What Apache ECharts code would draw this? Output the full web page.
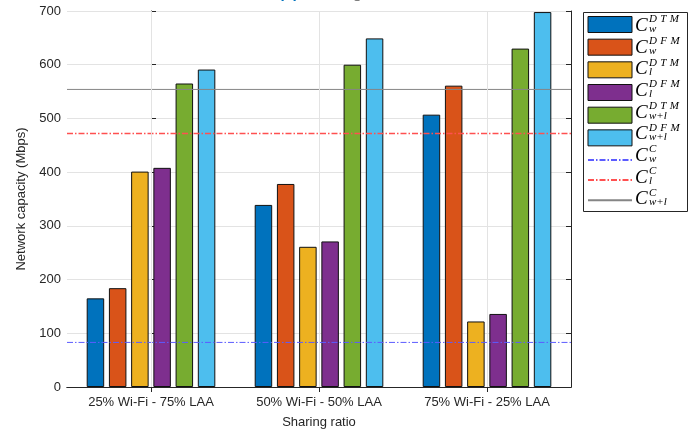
<!DOCTYPE html>
<html>
<head>
<meta charset="utf-8">
<script src="https://cdn.jsdelivr.net/npm/echarts@6/dist/echarts.min.js"></script>
<style>html,body{margin:0;padding:0;background:#fff}#c{width:696px;height:435px}</style>
</head>
<body>
<div id="c"></div>
<script>
const categories = ['25% Wi-Fi - 75% LAA', '50% Wi-Fi - 50% LAA', '75% Wi-Fi - 25% LAA'];
const barNames = ['Cw_DTM', 'Cw_DFM', 'Cl_DTM', 'Cl_DFM', 'Cwl_DTM', 'Cwl_DFM'];
const cwDTM = [165, 339, 507];
const cwDFM = [184, 378, 561];
const clDTM = [401, 261, 122];
const clDFM = [408, 271, 136];
const cwlDTM = [565, 600, 630];
const cwlDFM = [591, 649, 698];
const lineNames = ['Cw_C', 'Cl_C', 'Cwl_C'];
const cwC = 83;
const clC = 472;
const cwlC = 554;
const yTicks = [0, 100, 200, 300, 400, 500, 600, 700];
const legendSup = ['DTM', 'DFM', 'DTM', 'DFM', 'DTM', 'DFM', 'C', 'C', 'C'];
const legendSub = ['w', 'w', 'l', 'l', 'w+l', 'w+l', 'w', 'l', 'w+l'];

const barColors = ['#0072BD', '#D95319', '#EDB120', '#7E2F8E', '#77AC30', '#4DBEEE'];
const barData = [cwDTM, cwDFM, clDTM, clDFM, cwlDTM, cwlDFM];
const lineVals = [cwC, clC, cwlC];
const lineColors = ['#5c5cff', '#ff5050', '#858585'];
const lineWidths = [1, 1.4, 1];
const lineTypes = [[6, 2, 1.5, 2], [6, 2, 1.5, 2], 'solid'];
const axisCol = '#262626';
const gridCol = '#e3e3e3';
const fontFam = '"Liberation Sans", Arial, sans-serif';

const chart = echarts.init(document.getElementById('c'), null, {renderer: 'canvas'});

const series = [];
series.push({
  type: 'line', name: '', xAxisIndex: 2, yAxisIndex: 0, data: [], symbol: 'none', z: 0, silent: true,
  markLine: {
    silent: true, symbol: 'none', label: {show: false},
    lineStyle: {color: gridCol, type: 'solid', width: 1},
    data: [0, 1, 2].map(v => ({xAxis: v}))
  }
});
barData.forEach((d, i) => {
  series.push({
    type: 'bar', name: barNames[i], xAxisIndex: 0, yAxisIndex: 0, data: d,
    barWidth: 17.5, barGap: '27%', z: 2,
    itemStyle: {color: barColors[i], borderColor: '#111', borderWidth: 1}
  });
});
lineVals.forEach((v, i) => {
  series.push({
    type: 'line', name: lineNames[i], xAxisIndex: 2, yAxisIndex: 0,
    data: [[-0.5, v], [2.5, v]], symbol: 'none', z: 3, silent: true,
    color: lineColors[i],
    lineStyle: {color: lineColors[i], width: lineWidths[i], type: lineTypes[i], opacity: 1},
    itemStyle: {color: lineColors[i]}
  });
});

const legendData = barNames.map(n => ({name: n, icon: 'rect'}))
  .concat(lineNames.map(n => ({name: n, itemStyle: {opacity: 0, borderWidth: 0}})));

const graphics = [];
graphics.push({
  type: 'rect', left: 583, top: 12, z: 0,
  shape: {width: 104, height: 199},
  style: {fill: '#fff', stroke: axisCol, lineWidth: 1}
});
for (let i = 0; i < 9; i++) {
  const cy = 24 + i * 21.67;
  graphics.push({type: 'text', x: 635, y: cy + 2, z: 10,
    style: {text: 'C', font: 'italic 19px "Liberation Serif", serif', fill: '#000', verticalAlign: 'middle', align: 'left'}});
  const supTxt = legendSup[i].split('').map(ch => '{s|' + ch + '}').join('');
  graphics.push({type: 'text', x: 649, y: cy - 4.5, z: 10,
    style: {text: supTxt, fill: '#000', verticalAlign: 'middle', align: 'left',
      rich: {s: {font: 'italic 11px "Liberation Serif", serif', fill: '#000', padding: [0, 3.4, 0, 0]}}}});
  graphics.push({type: 'text', x: 649, y: cy + 5, z: 10,
    style: {text: legendSub[i], font: 'italic 11px "Liberation Serif", serif', fill: '#000', verticalAlign: 'middle', align: 'left'}});
}
graphics.push({type: 'text', x: 279, y: 1.5, z: 10,
  style: {text: '(b)', font: 'bold 15px ' + fontFam, fill: '#0072BD', verticalAlign: 'bottom', align: 'left'}});
graphics.push({type: 'text', x: 306, y: 1.5, z: 10,
  style: {text: 'Sharing-ratio scenario', font: 'bold 15px ' + fontFam, fill: '#7f7f7f', verticalAlign: 'bottom', align: 'left'}});

const option = {
  animation: false,
  backgroundColor: '#fff',
  textStyle: {fontFamily: fontFam},
  grid: {left: 67, top: 11, right: 125, bottom: 48, containLabel: false},
  legend: {
    show: true, orient: 'vertical', left: 587, top: 16, padding: 0,
    itemWidth: 44, itemHeight: 16, itemGap: 5.67,
    formatter: () => '', data: legendData, selectedMode: false,
    itemStyle: {borderColor: '#111', borderWidth: 1}
  },
  xAxis: [
    {
      type: 'category', position: 'bottom', data: categories,
      axisLine: {show: true, lineStyle: {color: axisCol, width: 1}},
      axisTick: {show: true, inside: true, alignWithLabel: true, length: 5, lineStyle: {color: axisCol}},
      axisLabel: {color: axisCol, fontSize: 13, margin: 9, fontFamily: fontFam},
      splitLine: {show: false},
      name: 'Sharing ratio', nameLocation: 'middle', nameGap: 29,
      nameTextStyle: {color: axisCol, fontSize: 13, fontFamily: fontFam}
    },
    {
      type: 'category', position: 'top', data: categories,
      axisLine: {show: true, lineStyle: {color: axisCol, width: 1}},
      axisTick: {show: true, inside: true, alignWithLabel: true, length: 5, lineStyle: {color: axisCol}},
      axisLabel: {show: false}, splitLine: {show: false}
    },
    {
      type: 'value', min: -0.5, max: 2.5, show: false, splitLine: {show: false}
    }
  ],
  yAxis: [
    {
      type: 'value', min: 0, max: 700, interval: 100, position: 'left',
      axisLine: {show: true, lineStyle: {color: axisCol, width: 1}},
      axisTick: {show: true, inside: true, length: 5, lineStyle: {color: axisCol}},
      axisLabel: {color: axisCol, fontSize: 13, margin: 6, fontFamily: fontFam,
        formatter: v => (yTicks.indexOf(v) >= 0 ? String(v) : '')},
      splitLine: {show: true, lineStyle: {color: gridCol, width: 1}},
      name: 'Network capacity (Mbps)', nameLocation: 'middle', nameGap: 31,
      nameTextStyle: {color: axisCol, fontSize: 13, fontFamily: fontFam}
    },
    {
      type: 'value', min: 0, max: 700, interval: 100, position: 'right',
      axisLine: {show: true, lineStyle: {color: axisCol, width: 1}},
      axisTick: {show: true, inside: true, length: 5, lineStyle: {color: axisCol}},
      axisLabel: {show: false}, splitLine: {show: false}
    }
  ],
  series: series,
  graphic: graphics
};
chart.setOption(option);
</script>
</body>
</html>
